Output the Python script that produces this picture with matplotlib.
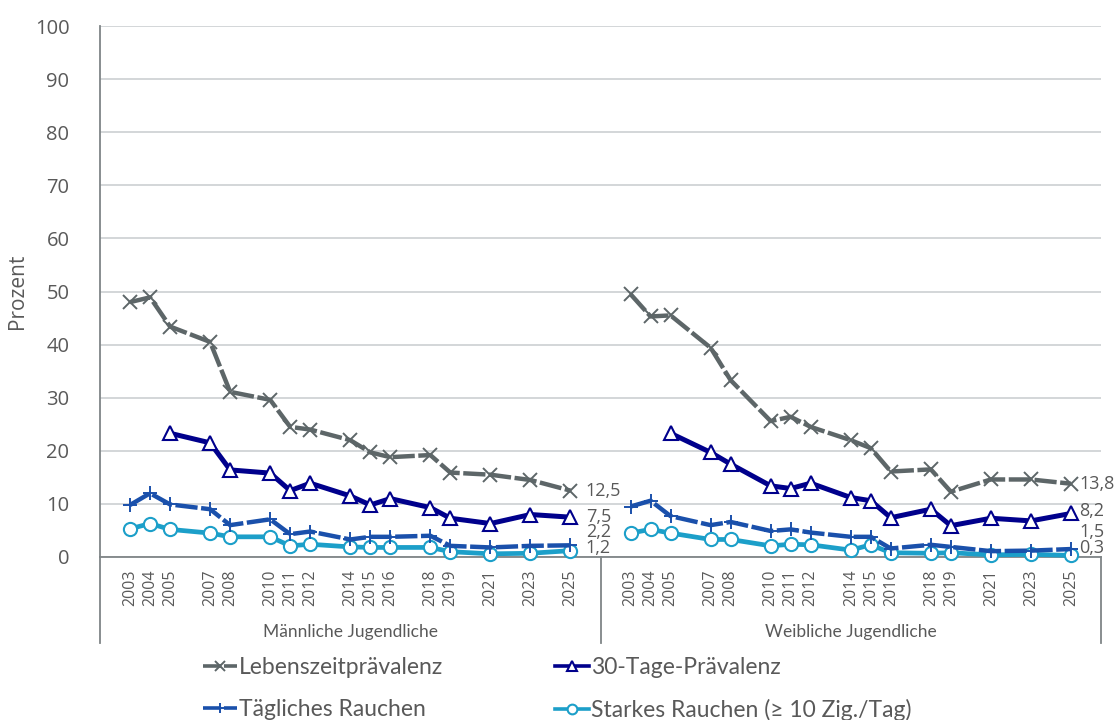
import matplotlib.pyplot as plt
import numpy as np

# Werte (Prozent)
years = [2003, 2004, 2005, 2007, 2008, 2010, 2011, 2012, 2014, 2015, 2016, 2018, 2019, 2021, 2023, 2025]
groups = ['Männliche Jugendliche', 'Weibliche Jugendliche']
series_names = ['Lebenszeitprävalenz', '30-Tage-Prävalenz', 'Tägliches Rauchen',
                'Starkes Rauchen (≥ 10 Zig./Tag)']

nan = np.nan
male_leben = [48.0, 48.9, 43.4, 40.5, 31.1, 29.6, 24.5, 24.0, 22.0, 19.7, 18.8, 19.2, 15.9, 15.5, 14.5, 12.5]
male_30 = [nan, nan, 23.3, 21.5, 16.4, 15.8, 12.5, 13.9, 11.5, 9.8, 11.0, 9.3, 7.3, 6.3, 8.0, 7.5]
male_taegl = [9.8, 12.0, 9.9, 9.0, 6.0, 7.1, 4.3, 4.8, 3.3, 3.8, 3.8, 4.0, 2.1, 1.8, 2.1, 2.2]
male_stark = [5.3, 6.3, 5.2, 4.5, 3.8, 3.8, 2.1, 2.4, 1.9, 1.8, 1.8, 1.8, 1.0, 0.6, 0.7, 1.2]
female_leben = [49.5, 45.3, 45.5, 39.4, 33.3, 25.6, 26.4, 24.5, 22.0, 20.5, 16.1, 16.5, 12.3, 14.6, 14.6, 13.8]
female_30 = [nan, nan, 23.3, 19.7, 17.5, 13.4, 12.9, 13.9, 11.2, 10.6, 7.4, 9.0, 5.9, 7.3, 6.8, 8.2]
female_taegl = [9.5, 10.6, 7.7, 6.0, 6.6, 4.9, 5.2, 4.6, 3.8, 3.8, 1.6, 2.3, 1.9, 1.1, 1.2, 1.5]
female_stark = [4.5, 5.2, 4.5, 3.3, 3.3, 2.1, 2.4, 2.3, 1.3, 2.3, 0.8, 0.7, 0.8, 0.4, 0.5, 0.3]

data = [[male_leben, male_30, male_taegl, male_stark],
        [female_leben, female_30, female_taegl, female_stark]]

# Stil je Reihe
colors = ['#5d6668', '#00008c', '#1a50ab', '#1c9fc9']
styles = [(0, (5, 0.8)), '-', (0, (5, 0.8)), '-']
widths = [3.2, 3.6, 3.2, 3.4]
markers = ['x', '^', '+', 'o']
# Versatz der Endbeschriftung in Punkten
label_dx = [11, 6]
label_dy = [[0, 0, 9.5, 2], [0, 1.5, 12, 5]]

txt = '#595959'
plt.rcParams['font.family'] = ['Open Sans', 'DejaVu Sans']

fig = plt.figure(figsize=(11.14, 7.2), dpi=100)
ax = fig.add_axes([100 / 1114, 1 - 557 / 720, 1001 / 1114, 531 / 720])

group_w = 25
xticks, xlabels = [], []
handles = []
for g in range(2):
    x = np.array(years) - years[0] + 1.5 + g * group_w
    xticks += list(x)
    xlabels += [str(y) for y in years]
    for i in range(4):
        y = np.array(data[g][i], dtype=float)
        m = ~np.isnan(y)
        ln, = ax.plot(x[m], y[m], color=colors[i], linestyle=styles[i], lw=widths[i],
                      marker=markers[i], ms=9.5, mew=1.4 if markers[i] in 'x+' else 1.5,
                      mfc='white' if markers[i] in '^o' else colors[i],
                      mec=colors[i], label=series_names[i],
                      solid_joinstyle='miter', clip_on=False, zorder=3 + (3 - i))
        if g == 0:
            handles.append(ln)
        val = y[m][-1]
        ax.annotate(f'{val:.1f}'.replace('.', ','), (x[m][-1], val),
                    xytext=(label_dx[g], label_dy[g][i]), textcoords='offset points',
                    va='center', ha='left', fontsize=13, color=txt,
                    annotation_clip=False)

ax.set_xlim(0, 2 * group_w)
ax.set_ylim(0, 100)
ax.set_yticks(range(0, 101, 10))
ax.tick_params(axis='y', length=0, labelsize=14.5, labelcolor=txt, pad=22)
ax.set_xticks(xticks)
ax.set_xticklabels(xlabels, rotation=90, fontsize=11.5, color=txt)
ax.tick_params(axis='x', length=0, pad=9)
ax.grid(axis='y', color='#d0d3d6', lw=1.3)
ax.set_axisbelow(True)
for s in ['top', 'right']:
    ax.spines[s].set_visible(False)
ax.spines['left'].set_color('#7f8587')
ax.spines['left'].set_linewidth(1.3)
ax.spines['bottom'].set_color('#7f8587')
ax.spines['bottom'].set_linewidth(1.3)
ax.set_ylabel('Prozent', fontsize=15, color=txt, labelpad=5)

# Gruppentrenner und Gruppennamen unter der Achse
trans = ax.get_xaxis_transform()
for xs in [0, group_w, 2 * group_w]:
    ax.plot([xs, xs], [0, -86 / 531], transform=trans, color='#7f8587', lw=1.3,
            clip_on=False)
for g in range(2):
    ax.text(g * group_w + group_w / 2, -75 / 531, groups[g], transform=trans,
            ha='center', va='center', fontsize=12.5, color=txt, family='Lato')

# Reihenfolge so, dass die Legende zeilenweise gelesen wird
order = [0, 2, 1, 3]
leg = fig.legend([handles[k] for k in order], [series_names[k] for k in order],
                 loc='upper left', bbox_to_anchor=(203 / 1114, 1 - 657 / 720), ncol=2,
                 frameon=False, labelcolor=txt, handlelength=1.5,
                 handletextpad=0.05, columnspacing=4.9, labelspacing=0.92,
                 borderpad=0, borderaxespad=0,
                 prop={'family': 'Lato', 'size': 16.5})
for h in leg.legend_handles:
    h.set_markersize(7)
    h.set_linewidth(2.6)

fig.savefig('out.png', dpi=100)
